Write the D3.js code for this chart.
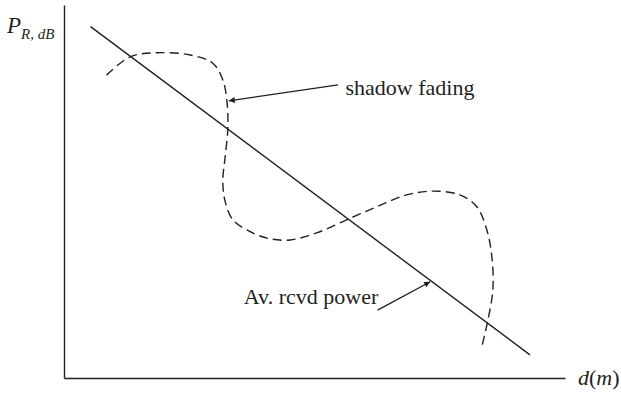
<!DOCTYPE html>
<html><head><meta charset="utf-8">
<script src="https://cdn.jsdelivr.net/npm/d3@7"></script>
<style>body{margin:0;background:#fff}svg{display:block}text{font-family:"Liberation Serif","Times New Roman",serif;fill:#231f20}</style>
</head><body><svg id="c" width="621" height="397"></svg>
<script>
// data (arbitrary units: distance 0..100, received power 0..100)
const avgX = [5.3, 93.0];
const avgY = [94.2, 6.2];
const shadowX = [8.5, 13.2, 18.5, 25.2, 29.7, 31.7, 32.5, 32.7, 32.1, 31.7, 32.1, 33.7, 36.5, 40.5, 45.1, 50.4, 56.4, 62.4, 68.4, 73.7, 79.0, 82.4, 84.4, 85.4, 85.6, 84.5, 83.4];
const shadowY = [81.2, 86.1, 87.2, 86.6, 84.4, 79.9, 74.5, 67.0, 58.5, 53.1, 47.7, 42.4, 39.7, 37.5, 37.0, 38.9, 42.4, 45.9, 49.1, 50.1, 49.1, 45.9, 39.7, 32.5, 23.6, 14.8, 8.4];
const labels = ["shadow fading", "Av. rcvd power"];
const labelX = [56.2, 35.9];
const labelY = [76.0, 19.8];
const arrowFromX = [54.7, 62.6];
const arrowFromY = [78.6, 18.2];
const arrowToX = [32.9, 73.1];
const arrowToY = [74.3, 25.8];

const svg = d3.select("#c");
const ink = "#231f20";
const x = d3.scaleLinear().domain([0, 100]).range([64, 565]);
const y = d3.scaleLinear().domain([0, 100]).range([378, 5]);

// axes (lines only)
svg.append("g").attr("transform", `translate(0,${y(0)})`)
  .call(d3.axisBottom(x).tickValues([]).tickSizeOuter(0))
  .select(".domain").attr("stroke", ink).attr("stroke-width", 1.4);
svg.append("g").attr("transform", `translate(${x(0)},0)`)
  .call(d3.axisLeft(y).tickValues([]).tickSizeOuter(0))
  .select(".domain").attr("stroke", ink).attr("stroke-width", 1.4);

// arrow marker
svg.append("defs").append("marker").attr("id", "ah")
  .attr("viewBox", "0 0 10 10").attr("refX", 10).attr("refY", 5)
  .attr("markerWidth", 9).attr("markerHeight", 6).attr("markerUnits", "userSpaceOnUse")
  .attr("orient", "auto")
  .append("path").attr("d", "M0,0L10,5L0,10Z").attr("fill", ink);

// average received power line
const line = d3.line().x(d => x(d[0])).y(d => y(d[1]));
svg.append("path").datum(d3.zip(avgX, avgY)).attr("d", line)
  .attr("fill", "none").attr("stroke", ink).attr("stroke-width", 1.4);

// shadow fading curve
const curve = d3.line().x(d => x(d[0])).y(d => y(d[1])).curve(d3.curveCatmullRom.alpha(0.5));
svg.append("path").datum(d3.zip(shadowX, shadowY)).attr("d", curve)
  .attr("fill", "none").attr("stroke", ink).attr("stroke-width", 1.4)
  .attr("stroke-dasharray", "9,5");

// arrows
labels.forEach((t, i) => {
  svg.append("line").attr("x1", x(arrowFromX[i])).attr("y1", y(arrowFromY[i]))
    .attr("x2", x(arrowToX[i])).attr("y2", y(arrowToY[i]))
    .attr("stroke", ink).attr("stroke-width", 1.3).attr("marker-end", "url(#ah)");
  svg.append("text").attr("x", x(labelX[i])).attr("y", y(labelY[i]))
    .attr("font-size", 22).text(t);
});

// axis titles
const py = svg.append("text").attr("x", 7).attr("y", 33).attr("font-size", 23);
py.append("tspan").attr("font-style", "italic").text("P");
py.append("tspan").attr("font-style", "italic").attr("font-size", 15).attr("dy", 6).text("R, dB");

const dx = svg.append("text").attr("x", 578).attr("y", 385).attr("font-size", 22);
dx.append("tspan").attr("font-style", "italic").text("d");
dx.append("tspan").text("(");
dx.append("tspan").attr("font-style", "italic").text("m");
dx.append("tspan").text(")");
</script></body></html>
